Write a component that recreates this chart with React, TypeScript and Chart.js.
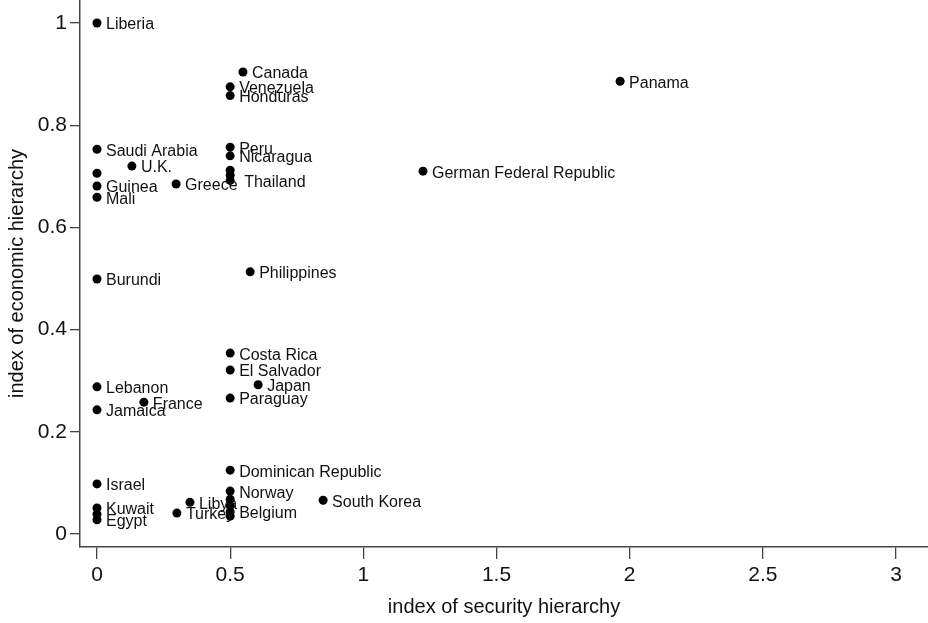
import React, { useEffect, useRef } from "react";
import { Chart, registerables } from "chart.js";

Chart.register(...registerables);

const countries = [
  "Liberia", "Canada", "Venezuela", "Honduras", "Panama",
  "Saudi Arabia", "U.K.", "", "Guinea", "Mali", "Greece",
  "Peru", "Nicaragua", "", "", "Thailand", "German Federal Republic",
  "Burundi", "Philippines", "Costa Rica", "El Salvador", "Japan", "Paraguay",
  "Lebanon", "France", "Jamaica", "Dominican Republic", "Israel",
  "Norway", "", "", "Belgium", "", "Libya", "Turkey", "South Korea",
  "Kuwait", "", "Egypt",
];

const securityHierarchy = [
  0, 0.548, 0.5, 0.5, 1.964,
  0, 0.131, 0, 0, 0, 0.297,
  0.5, 0.5, 0.5, 0.5, 0.5, 1.224,
  0, 0.575, 0.5, 0.5, 0.605, 0.5,
  0, 0.176, 0, 0.5, 0,
  0.5, 0.5, 0.5, 0.5, 0.5, 0.349, 0.3, 0.849,
  0, 0, 0,
];

const economicHierarchy = [
  1.0, 0.904, 0.875, 0.858, 0.886,
  0.753, 0.72, 0.706, 0.681, 0.659, 0.685,
  0.757, 0.74, 0.712, 0.702, 0.692, 0.71,
  0.499, 0.513, 0.354, 0.321, 0.292, 0.266,
  0.288, 0.258, 0.243, 0.125, 0.098,
  0.084, 0.068, 0.055, 0.043, 0.035, 0.062, 0.041, 0.066,
  0.051, 0.039, 0.028,
];

const xTickValues = [0, 0.5, 1, 1.5, 2, 2.5, 3];
const xTickLabels = ["0", "0.5", "1", "1.5", "2", "2.5", "3"];
const yTickValues = [0, 0.2, 0.4, 0.6, 0.8, 1];
const yTickLabels = ["0", "0.2", "0.4", "0.6", "0.8", "1"];

const xTitle = "index of security hierarchy";
const yTitle = "index of economic hierarchy";

const FONT = "'Liberation Sans', Arial, Helvetica, sans-serif";
const labelNudge: Record<string, [number, number]> = { Thailand: [5, 0] };

const pointLabels = {
  id: "pointLabels",
  afterDatasetsDraw(chart: any) {
    const ctx = chart.ctx;
    const meta = chart.getDatasetMeta(0);
    ctx.save();
    ctx.font = `16px ${FONT}`;
    ctx.fillStyle = "#111";
    ctx.textAlign = "left";
    ctx.textBaseline = "middle";
    meta.data.forEach((pt: any, i: number) => {
      const name = countries[i];
      if (!name) return;
      const n = labelNudge[name] || [0, 0];
      ctx.fillText(name, pt.x + 9 + n[0], pt.y + 2 + n[1]);
    });
    ctx.restore();
  },
};

const zeroPad = (s: any) => {
  s.paddingTop = 0;
  s.paddingBottom = 0;
  s.paddingLeft = 0;
  s.paddingRight = 0;
};

export default function App() {
  const ref = useRef<HTMLCanvasElement | null>(null);
  useEffect(() => {
    if (!ref.current) return;
    const data = securityHierarchy.map((x, i) => ({ x, y: economicHierarchy[i] }));
    const chart = new Chart(ref.current, {
      type: "scatter",
      data: {
        datasets: [
          {
            data,
            backgroundColor: "#000",
            borderWidth: 0,
            pointRadius: 4.5,
            pointHoverRadius: 4.5,
            clip: false,
          },
        ],
      },
      options: {
        animation: false,
        responsive: false,
        layout: { padding: 0, autoPadding: false },
        plugins: { legend: { display: false }, tooltip: { enabled: false } },
        scales: {
          x: {
            type: "linear",
            min: -0.0638,
            max: 3.12,
            afterFit: (s: any) => { s.height = 76; zeroPad(s); },
            afterBuildTicks: (s: any) => { s.ticks = xTickValues.map((v) => ({ value: v })); },
            ticks: {
              autoSkip: false,
              maxRotation: 0,
              padding: 4,
              color: "#111",
              font: { family: FONT, size: 21 },
              callback: (v: any) => {
                const i = xTickValues.indexOf(Number(v));
                return i >= 0 ? xTickLabels[i] : "";
              },
            },
            grid: { drawOnChartArea: false, drawTicks: true, tickLength: 12, color: "#444", lineWidth: 1.3 },
            border: { display: true, color: "#444", width: 1.5 },
            title: { display: true, text: xTitle, color: "#111", font: { family: FONT, size: 20 }, padding: { top: 0, bottom: 4 } },
          },
          y: {
            type: "linear",
            min: -0.0254,
            max: 1.045,
            afterFit: (s: any) => { s.width = 80; zeroPad(s); },
            afterBuildTicks: (s: any) => { s.ticks = yTickValues.map((v) => ({ value: v })); },
            ticks: {
              autoSkip: false,
              padding: 3,
              color: "#111",
              font: { family: FONT, size: 21 },
              callback: (v: any) => {
                const i = yTickValues.findIndex((t) => Math.abs(t - Number(v)) < 1e-9);
                return i >= 0 ? yTickLabels[i] : "";
              },
            },
            grid: { drawOnChartArea: false, drawTicks: true, tickLength: 10, color: "#444", lineWidth: 1.3 },
            border: { display: true, color: "#444", width: 1.5 },
            title: { display: true, text: yTitle, color: "#111", font: { family: FONT, size: 20 }, padding: { top: 5, bottom: 0 } },
          },
        },
      },
      plugins: [pointLabels],
    });
    return () => chart.destroy();
  }, []);
  return (
    <div style={{ position: "absolute", left: 0, top: 0, width: 928, height: 623, background: "#fff" }}>
      <canvas ref={ref} width={928} height={623} />
    </div>
  );
}
